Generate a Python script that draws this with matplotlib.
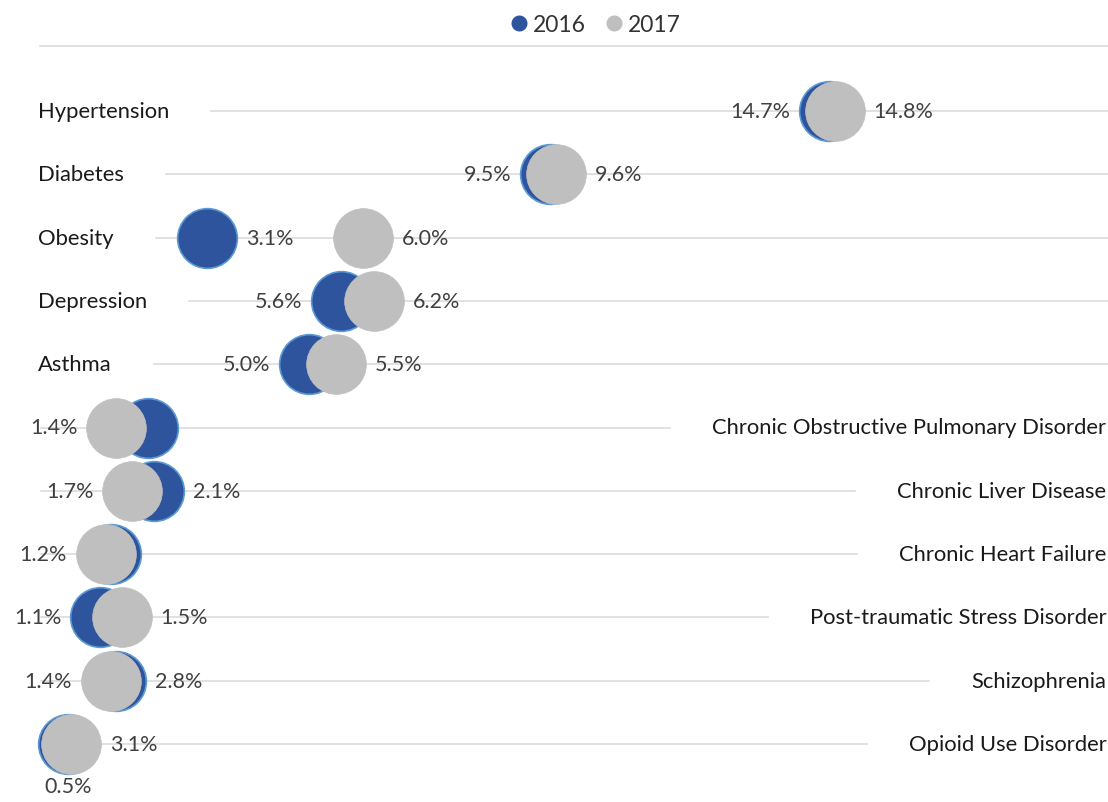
import matplotlib
matplotlib.use('Agg')
import matplotlib.pyplot as plt
from matplotlib.lines import Line2D

conditions = ['Hypertension', 'Diabetes', 'Obesity', 'Depression', 'Asthma',
              'Chronic Obstructive Pulmonary Disorder', 'Chronic Liver Disease',
              'Chronic Heart Failure', 'Post-traumatic Stress Disorder',
              'Schizophrenia', 'Opioid Use Disorder']
name_side = ['left'] * 5 + ['right'] * 6

# dot positions (percent) as drawn
pos_2016 = [14.7, 9.5, 3.1, 5.6, 5.0, 2.0, 2.1, 1.3, 1.1, 1.4, 0.5]
pos_2017 = [14.8, 9.6, 6.0, 6.2, 5.5, 1.4, 1.7, 1.2, 1.5, 1.3, 0.55]

# data labels as printed on the chart
lab_2016 = ['14.7%', '9.5%', '3.1%', '5.6%', '5.0%', None, '2.1%', None, '1.1%', '2.8%', '0.5%']
side_2016 = ['left', 'left', 'right', 'left', 'left', None, 'right', None, 'left', 'right', 'below']
lab_2017 = ['14.8%', '9.6%', '6.0%', '6.2%', '5.5%', '1.4%', '1.7%', '1.2%', '1.5%', '1.4%', '3.1%']
side_2017 = ['right', 'right', 'right', 'right', 'right', 'left', 'left', 'left', 'right', 'left', 'right']

blue = '#2E549E'
grey = '#BFBFBF'
grid_c = '#D9D9D9'
font = 'Lato'
name_fs = 15.8
val_fs = 15.5

W, H = 1108, 803
fig = plt.figure(figsize=(W / 100, H / 100), dpi=100)
ax = fig.add_axes([0, 0, 1, 1])
px_per = 53.6
x0 = 41.3
ax.set_xlim(-x0 / px_per, (W - x0) / px_per)
row0, row_h = 112, 63.3
ax.set_ylim((H - row0) / row_h, -row0 / row_h)
ax.axis('off')

rows = list(range(len(conditions)))
dot_s = 43 ** 2

ax.scatter(pos_2016, rows, s=dot_s, color=blue, edgecolor='#5B9BD5', linewidth=1.2, zorder=2)
ax.scatter(pos_2017, rows, s=dot_s, color=grey, edgecolor=grey, linewidth=0.5, zorder=3)

# category names
name_txt = []
for i, (name, side) in enumerate(zip(conditions, name_side)):
    if side == 'left':
        t = ax.text(-0.06, i, name, ha='left', va='center', fontsize=name_fs,
                    family=font, color='#1a1a1a', zorder=4)
    else:
        t = ax.text(19.87, i, name, ha='right', va='center', fontsize=name_fs,
                    family=font, color='#1a1a1a', zorder=4)
    name_txt.append(t)

# value labels
def put_labels(pos, labs, sides):
    for i, (x, lab, side) in enumerate(zip(pos, labs, sides)):
        if lab is None:
            continue
        if side == 'left':
            ax.annotate(lab, (x, i), xytext=(-28, 0), textcoords='offset points',
                        ha='right', va='center', fontsize=val_fs, family=font,
                        color='#404040', zorder=4)
        elif side == 'right':
            ax.annotate(lab, (x, i), xytext=(28, 0), textcoords='offset points',
                        ha='left', va='center', fontsize=val_fs, family=font,
                        color='#404040', zorder=4)
        else:
            ax.annotate(lab, (x, i), xytext=(0, -30), textcoords='offset points',
                        ha='center', va='center', fontsize=val_fs, family=font,
                        color='#404040', zorder=4)

put_labels(pos_2016, lab_2016, side_2016)
put_labels(pos_2017, lab_2017, side_2017)

# row lines run between the axis and the category name
fig.canvas.draw()
rend = fig.canvas.get_renderer()
inv = ax.transData.inverted()
gap = 42
for i, (t, side) in enumerate(zip(name_txt, name_side)):
    bb = t.get_window_extent(rend)
    if side == 'left':
        start = inv.transform((bb.x1 + gap, 0))[0]
        ax.plot([start, ax.get_xlim()[1]], [i, i], color=grid_c, lw=1.1, zorder=1)
    else:
        end = inv.transform((bb.x0 - gap, 0))[0]
        ax.plot([0, end], [i, i], color=grid_c, lw=1.1, zorder=1)

# top rule under legend
fig.add_artist(Line2D([40 / W, 1], [1 - 47 / H] * 2, color=grid_c, lw=1.1))

handles = [Line2D([], [], marker='o', ls='', color=blue, markersize=10.5),
           Line2D([], [], marker='o', ls='', color=grey, markersize=10.5)]
fig.legend(handles, ['2016', '2017'], loc='center', bbox_to_anchor=(0.531, 1 - 26 / H),
           ncol=2, frameon=False, handletextpad=-0.4, columnspacing=0.25,
           prop={'family': font, 'size': 16.5}, labelcolor='#333333')

fig.savefig('out.png', dpi=100)
